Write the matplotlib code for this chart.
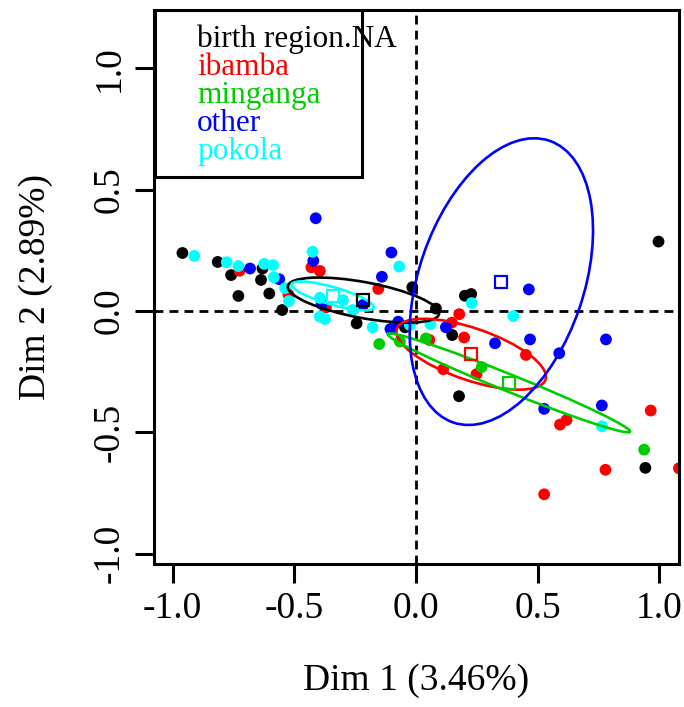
import matplotlib.pyplot as plt
from matplotlib.patches import Ellipse, Rectangle

plt.rcParams['font.family'] = ['Liberation Serif', 'DejaVu Serif']

groups = ['birth region.NA', 'ibamba', 'minganga', 'other', 'pokola']
colors = ['black', '#FF0000', '#00CD00', '#0000FF', '#00FFFF']

# individual coordinates on Dim 1 / Dim 2, one pair of lists per birth region
na_x = [-0.960, -0.815, -0.760, -0.631, -0.637, -0.730, -0.603, -0.550, -0.244,
        -0.015, 0.082, -0.045, 0.149, 0.201, 0.227, 0.177, 0.997, 0.943]
na_y = [0.239, 0.202, 0.148, 0.175, 0.128, 0.062, 0.072, 0.004, -0.051,
        0.098, 0.010, -0.067, -0.099, 0.063, 0.070, -0.351, 0.286, -0.646]

ibamba_x = [-0.725, -0.524, -0.430, -0.395, -0.370, -0.155, 0.178, 0.147, 0.055, 0.198,
            0.112, 0.249, 0.452, 0.592, 0.619, 0.965, 0.779, 1.081, 0.527]
ibamba_y = [0.166, 0.068, 0.180, 0.165, 0.016, 0.091, -0.013, -0.048, -0.119, -0.109,
            -0.240, -0.260, -0.181, -0.468, -0.449, -0.410, -0.654, -0.648, -0.755]

minganga_x = [-0.151, -0.066, 0.041, 0.270, 0.938]
minganga_y = [-0.136, -0.126, -0.113, -0.231, -0.571]

other_x = [-0.412, -0.422, -0.682, -0.562, -0.388, -0.217, -0.101, -0.140, -0.105,
           -0.073, 0.123, 0.464, 0.325, 0.469, 0.781, 0.589, 0.527, 0.764]
other_y = [0.382, 0.207, 0.175, 0.131, 0.029, 0.025, 0.241, 0.141, -0.074,
           -0.044, -0.067, 0.089, -0.133, -0.117, -0.117, -0.174, -0.403, -0.389]

pokola_x = [-0.911, -0.778, -0.730, -0.624, -0.587, -0.584, -0.538, -0.522, -0.425, -0.395,
            -0.374, -0.260, -0.178, -0.069, -0.025, 0.060, 0.229, 0.400, 0.765, -0.395, -0.300]
pokola_y = [0.227, 0.201, 0.185, 0.194, 0.189, 0.139, 0.094, 0.041, 0.244, -0.023,
            -0.033, 0.004, -0.067, 0.183, -0.058, -0.054, 0.033, -0.021, -0.475, 0.054, 0.045]

# group means and their confidence ellipses (semi-axes, angle in degrees)
mean_x = [-0.216, 0.227, 0.382, 0.351, -0.342]
mean_y = [0.045, -0.178, -0.296, 0.121, 0.062]
ell_a = [0.316, 0.323, 0.537, 0.613, 0.175]
ell_b = [0.074, 0.107, 0.035, 0.339, 0.036]
ell_angle = [-10.5, -19.0, -22.0, 71.2, -16.0]

xs = [na_x, ibamba_x, minganga_x, other_x, pokola_x]
ys = [na_y, ibamba_y, minganga_y, other_y, pokola_y]

fig = plt.figure(figsize=(6.84, 7.07), dpi=100)
ax = fig.add_axes([0.2251, 0.2023, 0.7675, 0.7836])

ax.set_xlim(-1.077, 1.081)
ax.set_ylim(-1.042, 1.240)

# dashed reference lines through the origin
ax.axhline(0, color='black', lw=2, ls=(0, (3.2, 2.2)), zorder=1)
ax.axvline(0, color='black', lw=2, ls=(0, (3.2, 2.2)), zorder=1)

for i in range(len(groups)):
    ax.scatter(xs[i], ys[i], s=72, color=colors[i], edgecolors='none', zorder=2)

for i in range(len(groups)):
    ax.add_patch(Ellipse((mean_x[i], mean_y[i]), 2 * ell_a[i], 2 * ell_b[i], angle=ell_angle[i],
                         fill=False, edgecolor=colors[i], lw=1.9, zorder=3))
    ax.plot(mean_x[i], mean_y[i], marker='s', markersize=8, markerfacecolor='none',
            markeredgecolor=colors[i], markeredgewidth=1.6, zorder=4)

# axes, ticks and labels
for sp in ax.spines.values():
    sp.set_linewidth(2.2)
ticks = [-1.0, -0.5, 0.0, 0.5, 1.0]
ax.set_xticks(ticks)
ax.set_yticks(ticks)
ax.set_xticklabels(['%.1f' % t for t in ticks])
ax.set_yticklabels(['%.1f' % t for t in ticks], rotation=90, va='center')
ax.tick_params(length=13.7, width=2.2, labelsize=27, pad=6)
ax.set_xlabel('Dim 1 (3.46%)', fontsize=27, labelpad=27)
ax.set_ylabel('Dim 2 (2.89%)', fontsize=27, labelpad=28)

# legend box drawn as in base R
ax.add_patch(Rectangle((0.002, 0.699), 0.394, 0.301, transform=ax.transAxes, fill=False,
                       edgecolor='black', lw=2.2, zorder=5))
base = [0.9338, 0.8827, 0.8321, 0.7815, 0.7306]
for i in range(len(groups)):
    ax.text(0.0819, base[i], groups[i], color=colors[i], fontsize=22.5,
            transform=ax.transAxes, va='baseline', ha='left', zorder=6)

plt.savefig('out.png', dpi=100)
